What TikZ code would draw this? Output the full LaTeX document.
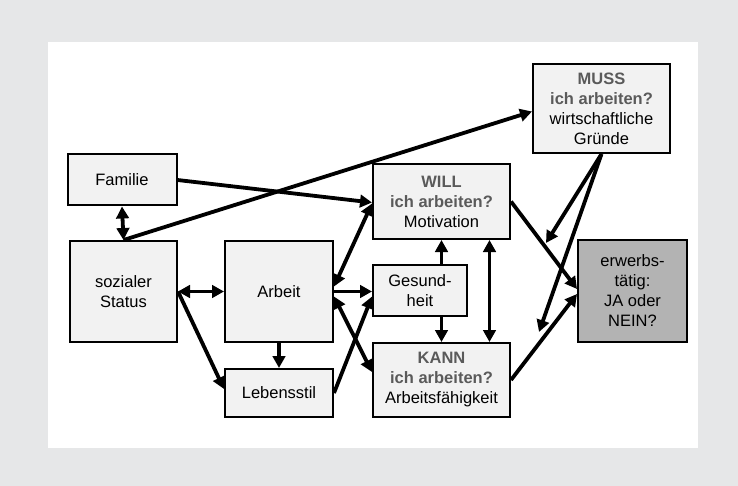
\documentclass[tikz,border=0pt]{standalone}
\usepackage{fontspec}
\setmainfont{Liberation Sans}
\usetikzlibrary{arrows.meta,calc}
\definecolor{bggray}{HTML}{E6E7E8}
\definecolor{boxfill}{HTML}{F2F2F2}
\definecolor{darkfill}{HTML}{B3B3B3}
\definecolor{headgray}{HTML}{5A5A5A}
\tikzset{
  box/.style={draw=black, fill=boxfill, line width=2pt, inner sep=0pt, align=center,
    font=\fontsize{16.5}{20}\selectfont},
  conn/.style={line width=3.8pt, -{Triangle[length=12pt,width=12.5pt]}},
  bconn/.style={line width=3.8pt, {Triangle[length=12pt,width=12.5pt]}-{Triangle[length=12pt,width=12.5pt]}},
}
\newcommand{\hd}[1]{{\bfseries\color{headgray}#1}}
\begin{document}
\begin{tikzpicture}[x=1pt,y=-1pt]
\fill[bggray] (0,0) rectangle (738,486);
\useasboundingbox (0,0) rectangle (738,486);
\fill[white] (48,42) rectangle (698,448);

\node[box, minimum width=109pt, minimum height=51pt] (fam) at (122,180) {Familie};
\node[box, minimum width=107pt, minimum height=101pt] (stat) at (123.5,291.5) {sozialer\\Status};
\node[box, minimum width=108pt, minimum height=101pt] (arb) at (279,291.5) {Arbeit};
\node[box, minimum width=108pt, minimum height=48pt] (leb) at (279,393) {Lebensstil};
\node[box, minimum width=137pt, minimum height=75pt] (will) at (441.5,201.5) {\hd{WILL}\\\hd{ich arbeiten?}\\Motivation};
\node[box, minimum width=94pt, minimum height=51pt] (ges) at (420,290.5) {Gesund-\\heit};
\node[box, minimum width=137pt, minimum height=74pt] (kann) at (441.5,380) {\hd{KANN}\\\hd{ich arbeiten?}\\Arbeitsfähigkeit};
\node[box, minimum width=137pt, minimum height=89pt] (muss) at (601.5,108.5) {\hd{MUSS}\\\hd{ich arbeiten?}\\wirtschaftliche\\Gründe};
\node[box, fill=darkfill, minimum width=109pt, minimum height=102pt] (erw) at (632.5,291) {erwerbs-\\tätig:\\JA oder\\NEIN?};

\coordinate (m1) at (546,243);
\coordinate (m2) at (539,332);

\draw[bconn] (fam.south) -- (stat.north);
\draw[conn] (stat.north) -- ($(muss.west)+(0,3)$);
\draw[conn] (fam.east) -- ($(will.west)+(0,1)$);
\draw[bconn] (stat.east) -- (arb.west);
\draw[conn] (stat.east) -- ($(leb.west)+(0,-4)$);
\draw[conn] (arb.south) -- (leb.north);
\draw[bconn] ($(arb.east)+(0,-5)$) -- ($(will.west)+(0,2)$);
\draw[conn] (arb.east) -- (arb.east -| ges.west);
\draw[bconn] ($(arb.east)+(0,5)$) -- ($(kann.west)+(0,-8)$);
\draw[conn] (leb.east) -- ($(ges.west)+(0,6)$);
\draw[conn] (will.south |- ges.north) -- (will.south);
\draw[conn] (kann.north |- ges.south) -- (kann.north);
\draw[bconn] ($(will.south)+(48,0)$) -- ($(kann.north)+(48,0)$);
\draw[conn] (will.east) -- ($(erw.west)+(0,-2)$);
\draw[conn] (kann.east) -- ($(erw.west)+(0,3)$);
\draw[conn] (muss.south) -- (m1);
\draw[conn] (muss.south) -- (m2);
\end{tikzpicture}
\end{document}
